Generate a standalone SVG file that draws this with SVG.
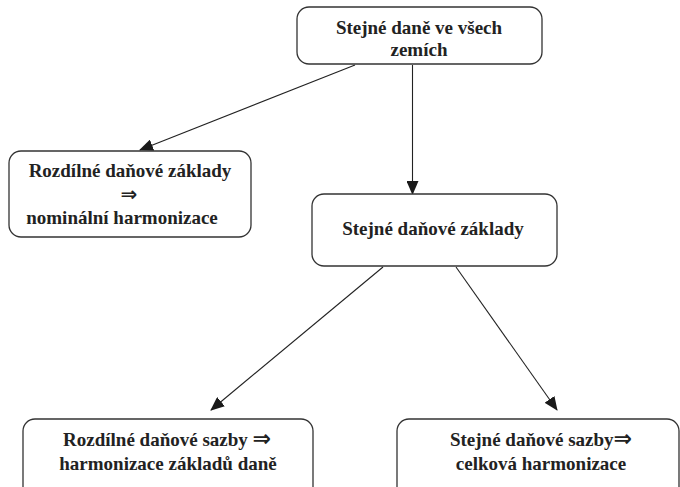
<svg xmlns="http://www.w3.org/2000/svg" width="680" height="487" viewBox="0 0 680 487">
<defs>
<marker id="ah" markerWidth="14" markerHeight="12" refX="13" refY="6" orient="auto" markerUnits="userSpaceOnUse">
<path d="M0,0 L14,6 L0,12 Z" fill="#1a1a1a"/>
</marker>
<style>
.box{fill:#fff;stroke:#333;stroke-width:1.3}
.t{font-family:'Liberation Serif','DejaVu Serif',serif;font-weight:bold;font-size:19px;fill:#222;text-anchor:middle}
.a{font-family:'DejaVu Sans',sans-serif;font-weight:bold;font-size:22px}
.c{stroke:#222;stroke-width:1.1;fill:none;marker-end:url(#ah)}
</style>
</defs>
<rect width="680" height="487" fill="#fff"/>
<g id="connectors">
<line class="c" x1="355" y1="65" x2="140" y2="150"/>
<line class="c" x1="412.5" y1="65" x2="412.5" y2="194"/>
<line class="c" x1="383" y1="267" x2="211" y2="410"/>
<line class="c" x1="456" y1="267" x2="557" y2="410"/>
</g>
<g id="n1">
<rect class="box" x="297" y="7" width="245" height="57" rx="12"/>
<text class="t" x="419" y="34">Stejné daně ve všech</text>
<text class="t" x="419" y="56">zemích</text>
</g>
<g id="n2">
<rect class="box" x="9" y="151" width="242" height="86" rx="12"/>
<text class="t" x="130" y="177">Rozdílné daňové základy</text>
<text class="t a" x="129" y="201" style="font-size:20px">⇒</text>
<text class="t" x="122" y="224">nominální harmonizace</text>
</g>
<g id="n3">
<rect class="box" x="312" y="194" width="245" height="72" rx="12"/>
<text class="t" x="433" y="235">Stejné daňové základy</text>
</g>
<g id="n4">
<rect class="box" x="23" y="419" width="290" height="90" rx="12"/>
<text class="t" x="167" y="446">Rozdílné daňové sazby <tspan class="a">⇒</tspan></text>
<text class="t" x="168" y="470">harmonizace základů daně</text>
</g>
<g id="n5">
<rect class="box" x="397" y="419" width="282" height="90" rx="12"/>
<text class="t" x="541" y="446">Stejné daňové sazby<tspan class="a">⇒</tspan></text>
<text class="t" x="541" y="470">celková harmonizace</text>
</g>
</svg>
